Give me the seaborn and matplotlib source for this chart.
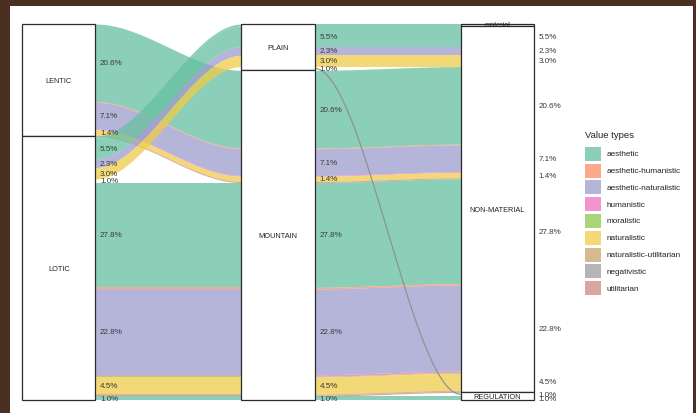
import numpy as np
import matplotlib
matplotlib.use("Agg")
import matplotlib.pyplot as plt
from matplotlib.patches import Rectangle
import seaborn as sns

# ---------------- data ----------------
value_types = ["aesthetic", "aesthetic-humanistic", "aesthetic-naturalistic",
               "humanistic", "moralistic", "naturalistic",
               "naturalistic-utilitarian", "negativistic", "utilitarian"]
type_colors = ["#66BFA0", "#F98D64", "#9D9BCD", "#EE72C0", "#8DC74E",
               "#EFCC4A", "#C8A26A", "#9C9C9C", "#CB8A80"]

water_strata = ["LENTIC", "LOTIC"]
landscape_strata = ["PLAIN", "MOUNTAIN"]
service_strata = ["material", "NON-MATERIAL", "REGULATION"]

lode_water = ["LENTIC"] * 6 + ["LOTIC"] * 15
lode_landscape = (["MOUNTAIN"] * 6 + ["PLAIN"] * 5 + ["MOUNTAIN"] * 9)
lode_landscape = lode_landscape + ["MOUNTAIN"]
lode_service = (["NON-MATERIAL"] * 6 + ["material"] + ["NON-MATERIAL"] * 3 +
                ["REGULATION"] + ["NON-MATERIAL"] * 8 + ["REGULATION"])
lode_type = ["aesthetic", "aesthetic-humanistic", "aesthetic-naturalistic",
             "humanistic", "naturalistic", "utilitarian",
             "aesthetic",
             "aesthetic", "aesthetic-naturalistic", "naturalistic",
             "negativistic",
             "aesthetic", "aesthetic-humanistic", "aesthetic-naturalistic",
             "humanistic", "moralistic", "naturalistic",
             "naturalistic-utilitarian", "utilitarian",
             "aesthetic"]
lode_pct = [20.6, 0.2, 7.1, 0.2, 1.4, 0.3,
            0.5,
            5.5, 2.3, 3.0,
            1.0,
            27.8, 0.4, 22.8, 0.4, 0.2, 4.5, 0.3, 0.3,
            1.0]
lode_water = lode_water[:len(lode_pct)]
hollow_types = ["negativistic"]   # drawn as an outlined, unfilled ribbon

# ---------------- style ----------------
sns.set_theme(style="white")
plt.rcParams["font.family"] = ["Liberation Sans", "DejaVu Sans"]
palette = dict(zip(value_types, sns.color_palette(type_colors)))
ALPHA = 0.75

W, H = 696, 414
fig = plt.figure(figsize=(W / 100, H / 100), dpi=100)
ax = fig.add_axes([0, 0, 1, 1])

cx1, unit = 58.7, 219.3          # pixel centre of first axis, pixels per axis step
y_top_px, y_bot_px = 25, 401
total = float(sum(lode_pct))
ppu = (y_bot_px - y_top_px) / total
ax.set_xlim(1 + (0 - cx1) / unit, 1 + (W - cx1) / unit)
ax.set_ylim((H - y_top_px) / ppu, (0 - y_top_px) / ppu)
ax.axis("off")

strata_lists = [water_strata, landscape_strata, service_strata]
lode_strata = [lode_water, lode_landscape, lode_service]
n = len(lode_pct)

# lode positions on each axis
ystart = [[0.0] * n for _ in range(3)]
for k in range(3):
    others = [j for j in sorted(range(3), key=lambda j: abs(j - k)) if j != k]
    def key(i):
        return (strata_lists[k].index(lode_strata[k][i]),) + tuple(
            strata_lists[j].index(lode_strata[j][i]) for j in others) + (i,)
    order = sorted(range(n), key=key)
    cum = 0.0
    for i in order:
        ystart[k][i] = cum
        cum += lode_pct[i]

half = 1 / 6
t = np.linspace(0, 1, 200)
s = 3 * t ** 2 - 2 * t ** 3

# flows
for k in range(2):
    x = (k + 1 + half) + t * (1 - 2 * half)
    for i in range(n):
        a0, b0 = ystart[k][i], ystart[k + 1][i]
        top = a0 + (b0 - a0) * s
        bot = top + lode_pct[i]
        if lode_type[i] in hollow_types:
            ax.fill_between(x, top, bot, color="white", lw=0, zorder=0.5)
            if k == 1:
                ax.plot(x, (top + bot) / 2, color="#8a8f8c", lw=0.9,
                        alpha=0.9, zorder=2.5)
        else:
            ax.fill_between(x, top, bot, color=palette[lode_type[i]],
                            alpha=ALPHA, lw=0, zorder=1)

# strata boxes
for k in range(3):
    for st in strata_lists[k]:
        idx = [i for i in range(n) if lode_strata[k][i] == st]
        y0 = min(ystart[k][i] for i in idx)
        y1 = max(ystart[k][i] + lode_pct[i] for i in idx)
        ax.add_patch(Rectangle((k + 1 - half, y0), 2 * half, y1 - y0,
                               facecolor="white", edgecolor="#2b2b2b",
                               lw=0.9, zorder=3))
        ax.text(k + 1, (y0 + y1) / 2, st, ha="center", va="center",
                fontsize=5.3, color="#222222", zorder=4)

# lode labels
for k in range(3):
    for i in range(n):
        if lode_pct[i] >= 1.0:
            ax.text(k + 1 + half + 0.022, ystart[k][i] + lode_pct[i] / 2,
                    f"{lode_pct[i]:.1f}%", ha="left", va="center",
                    fontsize=5.8, color="#3a3a3a", zorder=4)

# legend
def fx(px):
    return px / W

def fy(py):
    return 1 - py / H

fig.text(fx(585), fy(136), "Value types", ha="left", va="center",
         fontsize=6.8, color="#222222")
for j, vt in enumerate(value_types):
    top_px = 147.7 + 16.8 * j
    fig.add_artist(Rectangle((fx(585), fy(top_px + 14)), 16 / W, 14 / H,
                             transform=fig.transFigure, facecolor=palette[vt],
                             alpha=ALPHA, lw=0))
    fig.text(fx(606.5), fy(top_px + 7), vt, ha="left", va="center",
             fontsize=5.9, color="#222222")

# dark frame around the picture
brown = "#4B2F20"
for (x0, y0, w, h) in [(0, 0, W, 7), (0, 0, 10, H), (693, 0, 3, H)]:
    fig.add_artist(Rectangle((fx(x0), fy(y0 + h)), w / W, h / H,
                             transform=fig.transFigure, facecolor=brown,
                             lw=0, zorder=10))

fig.savefig("out.png", dpi=100)
